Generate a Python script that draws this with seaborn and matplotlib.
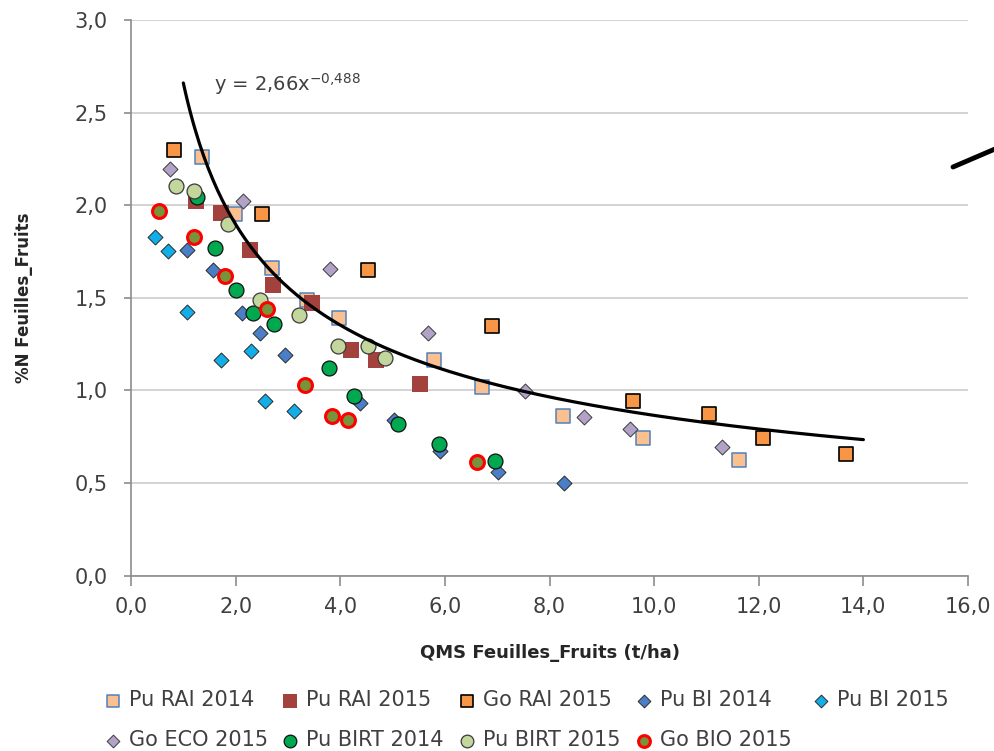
import numpy as np
import matplotlib
matplotlib.use("Agg")
import matplotlib.pyplot as plt
from matplotlib.lines import Line2D
from matplotlib.ticker import FuncFormatter, MultipleLocator
import seaborn as sns

# ---------------- data ----------------
pu_rai_2014_x = [1.36, 1.99, 2.69, 3.37, 3.97, 5.80, 6.71, 8.25, 9.78, 11.62]
pu_rai_2014_y = [2.26, 1.95, 1.66, 1.49, 1.39, 1.165, 1.02, 0.86, 0.745, 0.625]

pu_rai_2015_x = [1.25, 1.72, 2.28, 2.71, 3.46, 4.20, 4.69, 5.53]
pu_rai_2015_y = [2.02, 1.96, 1.76, 1.57, 1.47, 1.22, 1.165, 1.035]

go_rai_2015_x = [0.83, 2.51, 4.54, 6.91, 9.59, 11.04, 12.08, 13.66]
go_rai_2015_y = [2.30, 1.95, 1.65, 1.35, 0.94, 0.87, 0.745, 0.655]

pu_bi_2014_x = [1.08, 1.57, 2.12, 2.46, 2.95, 4.38, 5.03, 5.90, 7.01, 8.27]
pu_bi_2014_y = [1.76, 1.65, 1.42, 1.31, 1.19, 0.93, 0.84, 0.67, 0.56, 0.50]

pu_bi_2015_x = [0.46, 0.70, 1.08, 1.72, 2.30, 2.57, 3.11]
pu_bi_2015_y = [1.83, 1.755, 1.425, 1.165, 1.21, 0.94, 0.89]

go_eco_2015_x = [0.75, 2.14, 3.80, 5.67, 7.54, 8.65, 9.53, 11.30]
go_eco_2015_y = [2.195, 2.025, 1.655, 1.31, 0.995, 0.857, 0.79, 0.693]

pu_birt_2014_x = [1.26, 1.61, 2.01, 2.34, 2.74, 3.78, 4.27, 5.11, 5.88, 6.96]
pu_birt_2014_y = [2.045, 1.77, 1.54, 1.42, 1.36, 1.12, 0.97, 0.82, 0.71, 0.62]

pu_birt_2015_x = [0.86, 1.21, 1.85, 2.47, 3.22, 3.95, 4.54, 4.86]
pu_birt_2015_y = [2.105, 2.078, 1.90, 1.49, 1.405, 1.237, 1.237, 1.174]

go_bio_2015_x = [0.53, 1.20, 1.80, 2.60, 3.33, 3.84, 4.14, 6.61]
go_bio_2015_y = [1.97, 1.83, 1.62, 1.44, 1.027, 0.864, 0.841, 0.615]

series_names = ["Pu RAI 2014", "Pu RAI 2015", "Go RAI 2015", "Pu BI 2014", "Pu BI 2015",
                "Go ECO 2015", "Pu BIRT 2014", "Pu BIRT 2015", "Go BIO 2015"]
series_x = [pu_rai_2014_x, pu_rai_2015_x, go_rai_2015_x, pu_bi_2014_x, pu_bi_2015_x,
            go_eco_2015_x, pu_birt_2014_x, pu_birt_2015_x, go_bio_2015_x]
series_y = [pu_rai_2014_y, pu_rai_2015_y, go_rai_2015_y, pu_bi_2014_y, pu_bi_2015_y,
            go_eco_2015_y, pu_birt_2014_y, pu_birt_2015_y, go_bio_2015_y]

# power trendline y = a * x^b
trend_a = 2.66
trend_b = -0.488
trend_xmin, trend_xmax = 1.0, 14.0
trend_label = r"y = 2,66x$^{\mathregular{-0{,}488}}$"

x_ticks = [0, 2, 4, 6, 8, 10, 12, 14, 16]
y_ticks = [0.0, 0.5, 1.0, 1.5, 2.0, 2.5, 3.0]

# ---------------- styles ----------------
styles = [
    dict(marker="s", s=100, color="#FAC090", edgecolor="#4F81BD", linewidth=1.1),
    dict(marker="s", s=125, color="#A3423D", edgecolor="#A3423D", linewidth=0.0),
    dict(marker="s", s=100, color="#F79646", edgecolor="#000000", linewidth=1.2),
    dict(marker="D", s=58, color="#4A7EC6", edgecolor="#2A2A2A", linewidth=0.7),
    dict(marker="D", s=58, color="#12AEE8", edgecolor="#2A2A2A", linewidth=0.7),
    dict(marker="D", s=58, color="#B3A2C7", edgecolor="#3A3A3A", linewidth=0.7),
    dict(marker="o", s=115, color="#00A850", edgecolor="#111111", linewidth=0.9),
    dict(marker="o", s=115, color="#C3D69B", edgecolor="#3A3A3A", linewidth=0.9),
    dict(marker="o", s=100, color="#77933C", edgecolor="#FF0000", linewidth=2.2),
]

sns.set_theme(style="white")
plt.rcParams["font.family"] = ["DejaVu Sans"]
text_col = "#404040"

W, H = 995, 751
fig = plt.figure(figsize=(W / 100, H / 100), dpi=100)
ax_left, ax_right, ax_top, ax_bottom = 131, 968, 20, 575.5
ax = fig.add_axes([ax_left / W, 1 - ax_bottom / H, (ax_right - ax_left) / W, (ax_bottom - ax_top) / H])

handles = []
for name, xs, ys, st in zip(series_names, series_x, series_y, styles):
    sns.scatterplot(x=xs, y=ys, ax=ax, label=name, legend=False, zorder=3, **st)
    handles.append(ax.collections[-1])

tx = np.linspace(trend_xmin, trend_xmax, 300)
ty = trend_a * tx ** trend_b
sns.lineplot(x=tx, y=ty, ax=ax, color="black", linewidth=2.3, zorder=5, legend=False,
             sort=False, estimator=None)
ax.text(1.58, 2.615, trend_label, fontsize=14, color=text_col, ha="left", va="baseline")

ax.set_xlim(0, 16)
ax.set_ylim(0, 3)
ax.set_xticks(x_ticks)
ax.set_yticks(y_ticks)
fmt = FuncFormatter(lambda v, p: f"{v:.1f}".replace(".", ","))
ax.xaxis.set_major_formatter(fmt)
ax.yaxis.set_major_formatter(fmt)

ax.grid(axis="y", color="#C8C8C8", linewidth=1.1, zorder=0)
ax.grid(axis="x", visible=False)
ax.set_axisbelow(True)
for sp in ["top", "right"]:
    ax.spines[sp].set_visible(False)
for sp in ["left", "bottom"]:
    ax.spines[sp].set_color("#8C8C8C")
    ax.spines[sp].set_linewidth(1.2)

ax.tick_params(axis="x", which="major", direction="out", length=7.5, width=1.2,
               color="#8C8C8C", labelsize=15, labelcolor=text_col, pad=8, bottom=True)
ax.tick_params(axis="y", which="major", direction="out", length=5, width=1.2,
               color="#8C8C8C", labelsize=15, labelcolor=text_col, pad=12, left=True)

ax.set_xlabel("QMS Feuilles_Fruits (t/ha)", fontsize=13, fontweight="bold", color="#262626")
ax.set_ylabel("%N Feuilles_Fruits", fontsize=12, fontweight="bold", color="#262626")
ax.xaxis.label.set_va("center")
ax.yaxis.label.set_va("center")
ax.xaxis.set_label_coords((550 - ax_left) / (ax_right - ax_left), (ax_bottom - 653) / (ax_bottom - ax_top))
ax.yaxis.set_label_coords((24 - ax_left) / (ax_right - ax_left), (ax_bottom - 298) / (ax_bottom - ax_top))

# legend: Excel-like grid, 5 columns x 2 rows
col_x = [113, 290, 467, 644, 821]
row_y = [700, 740]
fs = 15
fs_px = fs * 100 / 72
hl = 0.8
for i, (h, name) in enumerate(zip(handles, series_names)):
    r, c = divmod(i, 5)
    left = col_x[c] - hl * fs_px / 2
    fig.legend([h], [name], loc="center left",
               bbox_to_anchor=(left / W, 1 - row_y[r] / H), bbox_transform=fig.transFigure,
               frameon=False, fontsize=fs, labelcolor=text_col, borderpad=0, borderaxespad=0,
               handlelength=hl, handletextpad=0.37, markerscale=0.85, scatterpoints=1)

# stray stroke at top right of the reference image
fig.add_artist(Line2D([953 / W, 995 / W], [1 - 167 / H, 1 - 149 / H], color="black",
                      linewidth=3.5, transform=fig.transFigure))

fig.savefig("out.png", dpi=100)
